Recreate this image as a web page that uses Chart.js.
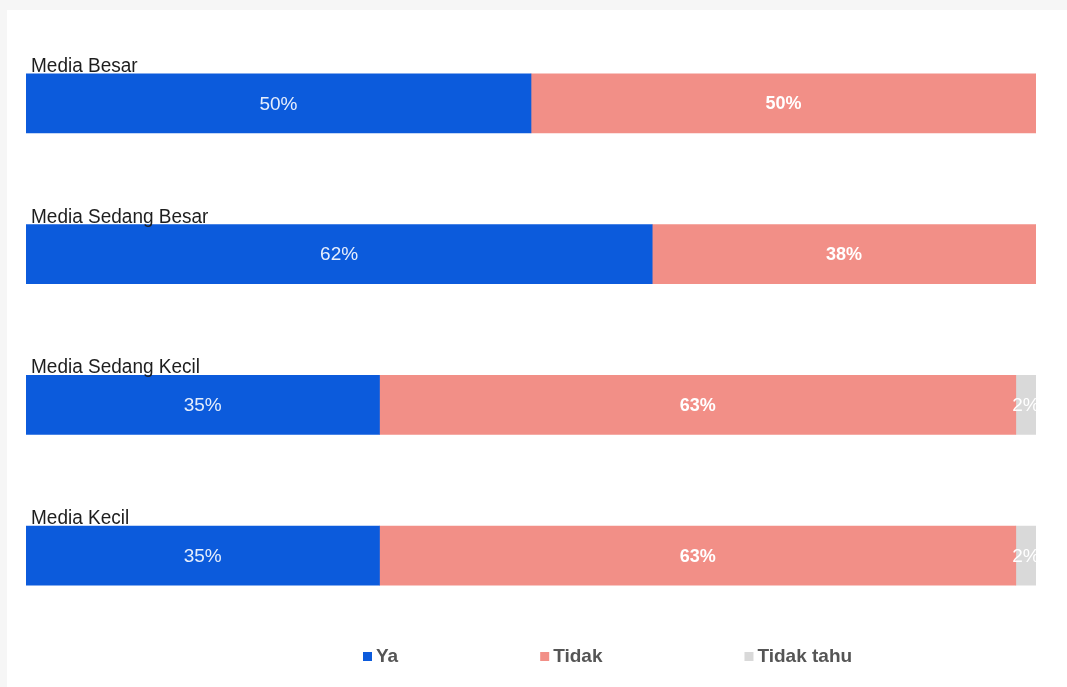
<!DOCTYPE html>
<html lang="id">
<head>
  <meta charset="UTF-8">
  <title>Media</title>
  <script src="https://cdn.jsdelivr.net/npm/chart.js"></script>
  <style>
    html, body { margin: 0; padding: 0; background: #f6f6f6; }
    #panel { position: absolute; left: 7px; top: 10px; width: 1060px; height: 677px; background: #fff; }
    #mediaChart { display: block; }
  </style>
</head>
<body>
  <div id="panel">
    <canvas id="mediaChart" width="1060" height="677"></canvas>
  </div>

  <script>
    // Survey answers per media size, in percent
    const categories = ['Media Besar', 'Media Sedang Besar', 'Media Sedang Kecil', 'Media Kecil'];
    const ya = [50, 62, 35, 35];
    const tidak = [50, 38, 63, 63];
    const tidakTahu = [0, 0, 2, 2];

    const FONT = '"Liberation Sans", Arial, sans-serif';

    // category name written above each bar (slightly stretched vertically)
    const categoryLabels = {
      id: 'categoryLabels',
      afterDatasetsDraw(chart) {
        const { ctx, chartArea } = chart;
        const meta = chart.getDatasetMeta(0);
        ctx.save();
        ctx.font = '19px ' + FONT;
        ctx.fillStyle = '#1e1e1e';
        ctx.textAlign = 'left';
        ctx.textBaseline = 'alphabetic';
        chart.data.labels.forEach((label, i) => {
          const bar = meta.data[i];
          const top = bar.y - bar.height / 2;
          ctx.save();
          ctx.translate(chartArea.left + 5, top - 2);
          ctx.scale(1, 1.08);
          ctx.fillText(label, 0, 0);
          ctx.restore();
        });
        ctx.restore();
      }
    };

    // percentage text in the middle of every segment
    const valueLabels = {
      id: 'valueLabels',
      afterDatasetsDraw(chart) {
        const { ctx, chartArea } = chart;
        ctx.save();
        ctx.beginPath();
        ctx.rect(chartArea.left, chartArea.top, chartArea.right - chartArea.left, chartArea.bottom - chartArea.top);
        ctx.clip();
        ctx.textAlign = 'center';
        ctx.textBaseline = 'middle';
        chart.data.datasets.forEach((ds, di) => {
          const meta = chart.getDatasetMeta(di);
          meta.data.forEach((bar, i) => {
            const v = ds.data[i];
            if (!v) return;
            const cx = (bar.x + bar.base) / 2;
            ctx.font = (ds.boldLabel ? 'bold 18px ' : '19px ') + FONT;
            ctx.fillStyle = ds.labelColor;
            ctx.fillText(v + '%', cx, bar.y + 1);
          });
        });
        ctx.restore();
      }
    };

    // legend row along the bottom
    const bottomLegend = {
      id: 'bottomLegend',
      afterDraw(chart) {
        const { ctx } = chart;
        ctx.save();
        ctx.font = 'bold 19px ' + FONT;
        ctx.textBaseline = 'middle';
        ctx.textAlign = 'left';
        let x = 356;
        const y = 647;
        chart.data.datasets.forEach(ds => {
          ctx.fillStyle = ds.backgroundColor;
          ctx.fillRect(x, y - 5, 9, 9);
          ctx.fillStyle = '#555555';
          ctx.fillText(ds.label, x + 13, y);
          x += 13 + ctx.measureText(ds.label).width + 142;
        });
        ctx.restore();
      }
    };

    const ctx = document.getElementById('mediaChart').getContext('2d');
    new Chart(ctx, {
      type: 'bar',
      data: {
        labels: categories,
        datasets: [
          { label: 'Ya', data: ya, backgroundColor: '#0c5bdc', labelColor: '#e6eefc', boldLabel: false },
          { label: 'Tidak', data: tidak, backgroundColor: '#f28f87', labelColor: '#ffffff', boldLabel: true },
          { label: 'Tidak tahu', data: tidakTahu, backgroundColor: '#d9d9d9', labelColor: '#ffffff', boldLabel: false }
        ]
      },
      options: {
        indexAxis: 'y',
        responsive: false,
        animation: false,
        devicePixelRatio: 1,
        layout: { padding: { left: 19, right: 31, top: 18, bottom: 56 } },
        datasets: { bar: { barThickness: 59, borderWidth: 0 } },
        scales: {
          x: { stacked: true, min: 0, max: 100, display: false },
          y: { stacked: true, display: false }
        },
        plugins: {
          legend: { display: false },
          tooltip: { enabled: false }
        }
      },
      plugins: [categoryLabels, valueLabels, bottomLegend]
    });
  </script>
</body>
</html>
